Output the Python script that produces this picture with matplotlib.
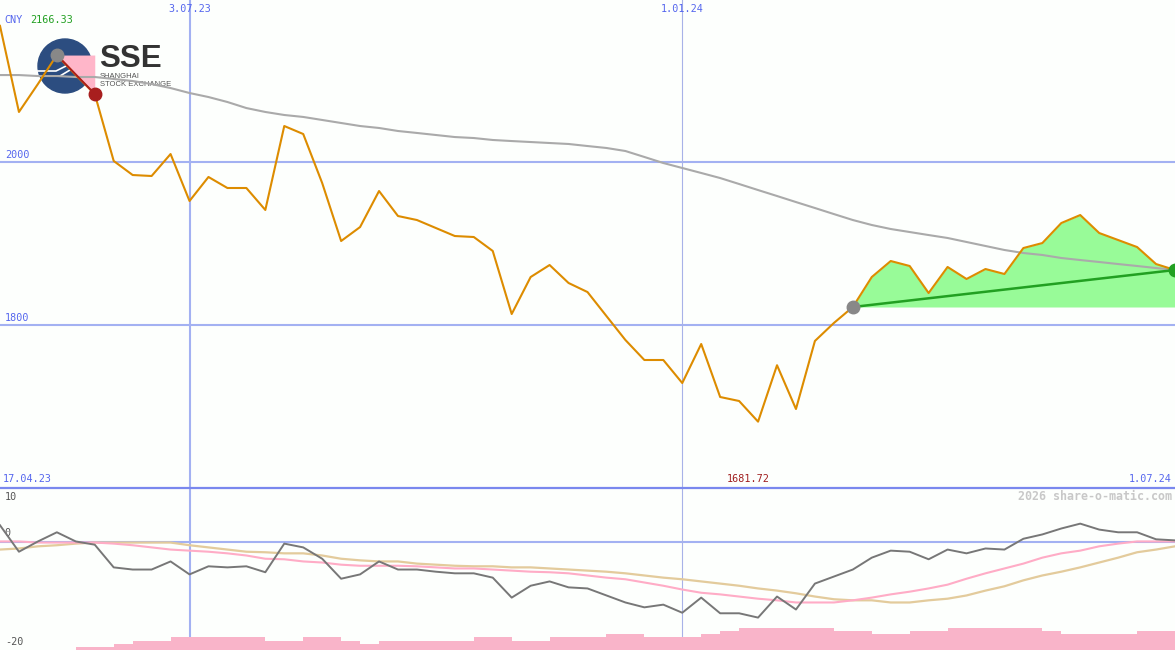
import numpy as np
import matplotlib
matplotlib.use("Agg")
import matplotlib.pyplot as plt
from matplotlib.patches import Circle

# weekly closes, 24.04.23 .. 1.07.24 (index 0..62)
price = [2166.33, 2060.9, 2095.1, 2130.6, 2106.1, 2082.9, 2000.9, 1983.7, 1982.5, 2009.4,
         1951.9, 1981.3, 1967.8, 1967.8, 1940.9, 2043.7, 2033.9, 1973.9, 1902.9, 1920.0,
         1964.1, 1933.5, 1928.6, 1918.8, 1909.0, 1907.8, 1890.7, 1813.5, 1858.8, 1873.5,
         1851.5, 1840.4, 1811.0, 1781.7, 1757.2, 1757.2, 1729.0, 1776.8, 1711.9, 1707.0,
         1681.72, 1750.8, 1697.2, 1780.5, 1802.5, 1822.1, 1858.8, 1878.4, 1872.3, 1839.2,
         1871.1, 1856.4, 1868.6, 1862.5, 1894.3, 1900.4, 1924.9, 1934.7, 1912.7, 1904.1,
         1895.5, 1874.7, 1867.4]

moving_avg = [2106.1, 2106.1, 2104.9, 2104.9, 2103.7, 2103.7, 2101.3, 2098.8, 2095.1, 2090.2,
              2084.1, 2079.2, 2073.1, 2065.7, 2060.9, 2057.2, 2054.8, 2051.1, 2047.4, 2043.7,
              2041.3, 2037.6, 2035.2, 2032.7, 2030.2, 2029.0, 2026.6, 2025.3, 2024.1, 2022.9,
              2021.7, 2019.2, 2016.8, 2013.1, 2005.8, 1998.4, 1992.3, 1986.2, 1980.0, 1972.7,
              1965.3, 1958.0, 1950.6, 1943.3, 1935.9, 1928.6, 1922.5, 1917.6, 1913.9, 1910.2,
              1906.6, 1901.7, 1896.8, 1891.9, 1888.2, 1885.8, 1882.1, 1879.6, 1877.2, 1874.7,
              1872.3, 1869.8, 1867.4]

oscillator = [3.1, -1.8, 0.1, 1.8, 0.1, -0.5, -4.7, -5.1, -5.1, -3.6,
              -6.0, -4.5, -4.7, -4.5, -5.6, -0.3, -1.0, -3.1, -6.8, -6.0,
              -3.6, -5.1, -5.1, -5.5, -5.8, -5.8, -6.6, -10.3, -8.1, -7.3,
              -8.4, -8.6, -9.9, -11.2, -12.1, -11.6, -13.1, -10.3, -13.2, -13.2,
              -14.0, -10.1, -12.5, -7.7, -6.4, -5.1, -2.9, -1.6, -1.8, -3.2,
              -1.4, -2.1, -1.2, -1.4, 0.6, 1.4, 2.5, 3.4, 2.3, 1.8,
              1.8, 0.5, 0.3]

signal_fast = [0.1, 0.1, -0.1, -0.1, -0.1, -0.1, -0.3, -0.6, -1.0, -1.4,
               -1.6, -1.8, -2.1, -2.5, -3.1, -3.2, -3.6, -3.8, -4.2, -4.4,
               -4.4, -4.4, -4.5, -4.7, -4.9, -4.9, -5.1, -5.3, -5.5, -5.6,
               -5.8, -6.2, -6.6, -6.9, -7.5, -8.1, -8.8, -9.4, -9.7, -10.1,
               -10.5, -10.8, -11.2, -11.2, -11.2, -10.8, -10.3, -9.7, -9.2, -8.6,
               -7.9, -6.8, -5.8, -4.9, -4.0, -2.9, -2.1, -1.6, -0.8, -0.3,
               0.1, 0.1, 0.1]

signal_slow = [-1.4, -1.2, -0.8, -0.6, -0.3, -0.1, -0.1, -0.1, -0.1, -0.1,
               -0.6, -1.0, -1.4, -1.8, -1.9, -2.1, -2.1, -2.5, -3.1, -3.4,
               -3.6, -3.6, -4.0, -4.2, -4.4, -4.5, -4.5, -4.7, -4.7, -4.9,
               -5.1, -5.3, -5.5, -5.8, -6.2, -6.6, -6.9, -7.3, -7.7, -8.1,
               -8.6, -9.0, -9.5, -10.1, -10.6, -10.8, -10.8, -11.2, -11.2, -10.8,
               -10.5, -9.9, -9.0, -8.2, -7.1, -6.2, -5.5, -4.7, -3.8, -2.9,
               -1.9, -1.4, -0.8]

volume_level = [0, 0, 0, 0, 1, 1, 2, 3, 3, 4,
                4, 4, 4, 4, 3, 3, 4, 4, 3, 2,
                3, 3, 3, 3, 3, 4, 4, 3, 3, 4,
                4, 4, 5, 5, 4, 4, 4, 5, 6, 7,
                7, 7, 7, 7, 6, 6, 5, 5, 6, 6,
                7, 7, 7, 7, 7, 6, 5, 5, 5, 5,
                6, 6, 6]

date_marks = [10, 36]
date_labels = ["3.07.23", "1.01.24"]
price_levels = [2000, 1800]

# drawdown (pink) and rise (green) segments
dd_start, dd_end = 3, 5
up_start, up_end = 45, 62

x = np.arange(len(price))
price = np.array(price)

BG = "#fdfffd"
GRID = "#a3b1f2"
BLUE_TXT = "#5566ee"
MONO = "DejaVu Sans Mono"

fig = plt.figure(figsize=(11.75, 6.5), dpi=100, facecolor=BG)

# logo axes in pixel units
lax = fig.add_axes([0, 1 - 100 / 650, 180 / 1175, 100 / 650], zorder=0)
lax.set_xlim(0, 180)
lax.set_ylim(100, 0)
lax.axis("off")
lax.add_patch(Circle((65, 66), 27, color="#2c4d80"))
lax.plot([38, 56, 66, 74], [71, 71, 66, 58], color="white", lw=1.2)
lax.plot([40, 60, 70, 79], [76, 76, 70, 62], color="white", lw=1.2)
lax.text(99, 67, "SSE", fontsize=22.5, fontweight="bold", family="Liberation Sans",
         color="#333333", va="baseline", ha="left")
lax.text(100, 78, "SHANGHAI", fontsize=5.5, family="Liberation Sans", color="#555555", va="baseline")
lax.text(100, 86, "STOCK EXCHANGE", fontsize=5.5, family="Liberation Sans", color="#555555", va="baseline")

# top price panel
ax = fig.add_axes([0, 1 - 487 / 650, 1, 487 / 650], zorder=1)
ax.set_facecolor("none")
ax.set_xlim(0, 62)
ax.set_ylim(1601.7, 2198.0)
ax.axis("off")

for lv in price_levels:
    ax.axhline(lv, color=GRID, lw=1.5, zorder=1)
    ax.text(0.25, lv + 2, str(lv), fontsize=7.3, family=MONO, color=BLUE_TXT, va="bottom", ha="left")
ax.axvline(date_marks[0], color=GRID, lw=1.5, zorder=1)
ax.axvline(date_marks[1], color="#a8b2e8", lw=0.8, zorder=1)
for m, lab in zip(date_marks, date_labels):
    ax.text(m, 2187, lab, fontsize=7.3, family=MONO, color=BLUE_TXT, ha="center", va="center")

ax.plot(x, moving_avg, color="#aaaaaa", lw=1.5, zorder=3)

# drawdown
seg = slice(dd_start, dd_end + 1)
ax.fill_between(x[seg], price[seg], price[dd_start], color="#ffb6c9", lw=0, zorder=2)
# rise
seg = slice(up_start, up_end + 1)
ax.fill_between(x[seg], price[seg], price[up_start], color="#98fb98", lw=0, zorder=2)

ax.plot(x, price, color="#dd8c00", lw=1.5, zorder=4)
ax.plot([dd_start, dd_end], [price[dd_start], price[dd_end]], color="#aa1e1e", lw=1.4, zorder=5)
ax.plot([up_start, up_end], [price[up_start], price[up_end]], color="#22a022", lw=1.8, zorder=5)
ax.plot(dd_start, price[dd_start], "o", color="#888888", ms=9, zorder=6)
ax.plot(dd_end, price[dd_end], "o", color="#a81e1e", ms=9, zorder=6)
ax.plot(up_start, price[up_start], "o", color="#888888", ms=9, zorder=6)
ax.plot(up_end, price[up_end], "o", color="#22a022", ms=9, zorder=6, clip_on=False)

ax.text(0.25, 2173.5, "CNY", fontsize=7.3, family=MONO, color=BLUE_TXT, va="center", ha="left")
ax.text(1.6, 2173.5, f"{price.max():.2f}", fontsize=7.3, family=MONO, color="#22a022", va="center", ha="left")
ax.text(0.15, 1611.5, "17.04.23", fontsize=7.3, family=MONO, color=BLUE_TXT, va="center", ha="left")
ax.text(39.5, 1611.5, f"{price.min():.2f}", fontsize=7.3, family=MONO, color="#a01e1e", va="center", ha="center")
ax.text(61.85, 1611.5, "1.07.24", fontsize=7.3, family=MONO, color=BLUE_TXT, va="center", ha="right")

# bottom indicator panel
bx = fig.add_axes([0, 0, 1, 162 / 650], zorder=1)
bx.set_facecolor("none")
bx.set_xlim(0, 62)
bx.set_ylim(-20, 10)
bx.axis("off")
bx.axhline(10, color="#7a88ee", lw=1.6, clip_on=False, zorder=5)
bx.axhline(0, color=GRID, lw=1.5, zorder=1)
bx.axvline(date_marks[0], color=GRID, lw=1.5, zorder=1)
bx.axvline(date_marks[1], color="#a8b2e8", lw=0.8, zorder=1)

bx.bar(x, np.array(volume_level) * 0.583, bottom=-20, width=1.0, align="edge",
       color="#f9b4c9", lw=0, zorder=2)
bx.plot(x, signal_slow, color="#e3cb9c", lw=1.6, zorder=3)
bx.plot(x, signal_fast, color="#ffacc6", lw=1.5, zorder=3)
bx.plot(x, oscillator, color="#777777", lw=1.4, zorder=4)

bx.text(0.25, 8.4, "10", fontsize=7.3, family=MONO, color="#555555", va="center", ha="left")
bx.text(0.25, 1.6, "0", fontsize=7.3, family=MONO, color="#555555", va="center", ha="left")
bx.text(0.25, -18.6, "-20", fontsize=7.3, family=MONO, color="#555555", va="center", ha="left")
bx.text(61.85, 8.4, "2026 share-o-matic.com", fontsize=8.4, family=MONO, fontweight="bold",
        color="#c8c8c8", va="center", ha="right")

fig.savefig("out.png", dpi=100, facecolor=BG)
